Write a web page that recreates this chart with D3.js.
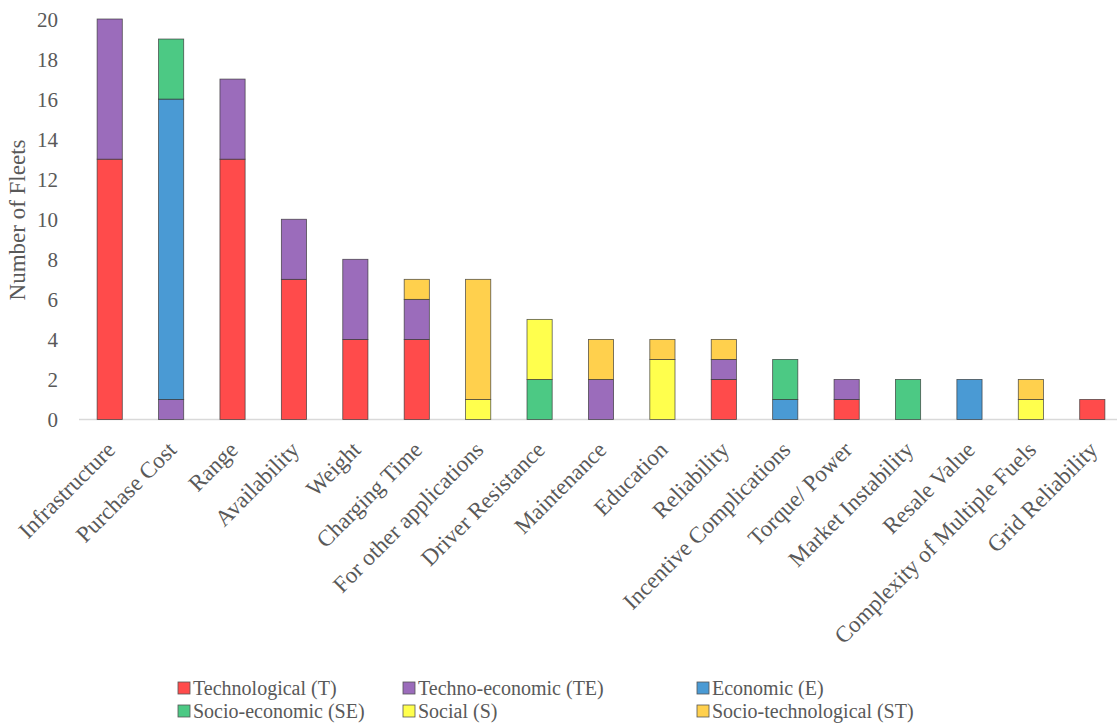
<!DOCTYPE html>
<html><head><meta charset="utf-8">
<script src="https://cdn.jsdelivr.net/npm/d3@7"></script>
<style>body{margin:0;background:#fff}svg{display:block}text{font-family:"Liberation Serif","Times New Roman",serif;fill:#595959}</style>
</head><body><svg id="c" width="1117" height="724"></svg>
<script>
const categories = ["Infrastructure","Purchase Cost","Range","Availability","Weight","Charging Time","For other applications","Driver Resistance","Maintenance","Education","Reliability","Incentive Complications","Torque/ Power","Market Instability","Resale Value","Complexity of Multiple Fuels","Grid Reliability"];
const seriesNames = ["Technological (T)","Techno-economic (TE)","Economic (E)","Socio-economic (SE)","Social (S)","Socio-technological (ST)"];
const T  = [13,0,13,7,4,4,0,0,0,0,2,0,1,0,0,0,1];
const TE = [7,1,4,3,4,2,0,0,2,0,1,0,1,0,0,0,0];
const E  = [0,15,0,0,0,0,0,0,0,0,0,1,0,0,2,0,0];
const SE = [0,3,0,0,0,0,0,2,0,0,0,2,0,2,0,0,0];
const S  = [0,0,0,0,0,0,1,3,0,3,0,0,0,0,0,1,0];
const ST = [0,0,0,0,0,1,6,0,2,1,1,0,0,0,0,1,0];
const yTicks = [0,2,4,6,8,10,12,14,16,18,20];
const colors = ["#FF4B4B","#9B6CBB","#4A9AD4","#4CC984","#FFFF4D","#FFD04D"];

const allSeries = [T,TE,E,SE,S,ST];
const rows = categories.map((c,i)=>{const r={cat:c}; seriesNames.forEach((s,j)=>r[s]=allSeries[j][i]); return r;});
const stack = d3.stack().keys(seriesNames)(rows);

const svg = d3.select("#c");
const x = d3.scaleBand().domain(categories).range([79,1123]).paddingInner(0.59).paddingOuter(0.295);
const y = d3.scaleLinear().domain([0,20]).range([419.5,19]);

// y axis labels
const ya = svg.append("g").attr("transform","translate(58,0)")
  .call(d3.axisLeft(y).tickValues(yTicks).tickSize(0).tickPadding(0));
ya.select(".domain").remove();
ya.selectAll("text").attr("font-size",21).attr("dy","0.35em");

// baseline
svg.append("line").attr("x1",79).attr("x2",1117).attr("y1",y(0)).attr("y2",y(0)).attr("stroke","#d9d9d9").attr("stroke-width",1.5);

// bars
stack.forEach((s,j)=>{
  svg.append("g").selectAll("rect").data(s.filter(d=>d[1]-d[0]>0)).join("rect")
    .attr("x",d=>x(d.data.cat)).attr("width",x.bandwidth())
    .attr("y",d=>y(d[1])).attr("height",d=>y(d[0])-y(d[1]))
    .attr("fill",colors[j]).attr("stroke","#333").attr("stroke-width",0.8).attr("stroke-opacity",0.8);
});

// x labels
const xa = svg.append("g").attr("transform",`translate(0,${y(0)})`)
  .call(d3.axisBottom(x).tickSize(0).tickPadding(0));
xa.select(".domain").remove();
xa.selectAll("text").attr("font-size",23).attr("text-anchor","end")
  .attr("transform","translate(1,26) rotate(-45)").attr("dy","0.35em");

// y title
svg.append("text").attr("transform","translate(25,220) rotate(-90)").attr("text-anchor","middle")
  .attr("font-size",23).text("Number of Fleets");

// legend
const lx=[178,403,697], ly=[688,711];
seriesNames.forEach((s,i)=>{
  const g=svg.append("g").attr("transform",`translate(${lx[i%3]},${ly[Math.floor(i/3)]})`);
  g.append("rect").attr("x",0).attr("y",-6).attr("width",12).attr("height",12).attr("fill",colors[i]).attr("stroke","#555").attr("stroke-width",0.8);
  g.append("text").attr("x",15).attr("y",0).attr("dy","0.35em").attr("font-size",20).text(s);
});
</script></body></html>
